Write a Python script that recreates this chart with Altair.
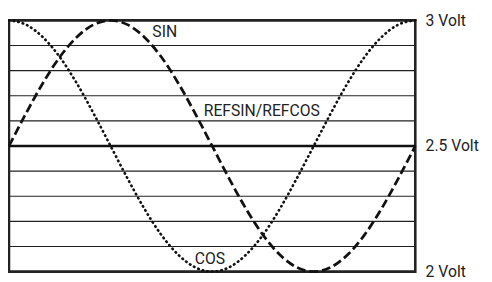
import altair as alt
import pandas as pd

# phase in degrees across one period
phase_deg = [0, 15, 30, 45, 60, 75, 90, 105, 120, 135, 150, 165, 180,
             195, 210, 225, 240, 255, 270, 285, 300, 315, 330, 345, 360]
sin_volt = [2.5, 2.629, 2.75, 2.854, 2.933, 2.983, 3.0, 2.983, 2.933, 2.854, 2.75, 2.629, 2.5,
            2.371, 2.25, 2.146, 2.067, 2.017, 2.0, 2.017, 2.067, 2.146, 2.25, 2.371, 2.5]
cos_volt = [3.0, 2.983, 2.933, 2.854, 2.75, 2.629, 2.5, 2.371, 2.25, 2.146, 2.067, 2.017, 2.0,
            2.017, 2.067, 2.146, 2.25, 2.371, 2.5, 2.629, 2.75, 2.854, 2.933, 2.983, 3.0]
grid_levels = [2.1, 2.2, 2.3, 2.4, 2.6, 2.7, 2.8, 2.9]
mid_level = [2.5]
axis_values = [2, 2.5, 3]
label_text = ["SIN", "REFSIN/REFCOS", "COS"]
label_phase = [138, 224, 178]
label_volt = [2.953, 2.637, 2.051]

curves = pd.DataFrame({"phase": phase_deg, "sin": sin_volt, "cos": cos_volt})
grid_df = pd.DataFrame({"v": grid_levels})
mid_df = pd.DataFrame({"v": mid_level})
labels_df = pd.DataFrame({"t": label_text, "phase": label_phase, "v": label_volt})

xs = alt.Scale(domain=[0, 360], nice=False, zero=False)
ys = alt.Scale(domain=[2, 3], nice=False, zero=False)
yaxis = alt.Axis(
    orient="right", values=axis_values, ticks=False, domain=False, grid=False,
    labelPadding=10, labelFontSize=16, labelFont="Roboto", labelColor="#222",
    labelFlush=False, labelOverlap=False, title=None,
    labelExpr="datum.value + ' Volt'")

grid = alt.Chart(grid_df).mark_rule(color="#222", strokeWidth=1.2).encode(
    y=alt.Y("v:Q", scale=ys, axis=yaxis)
)
mid = alt.Chart(mid_df).mark_rule(color="#111", strokeWidth=2.4).encode(
    y=alt.Y("v:Q", scale=ys, axis=yaxis)
)
sin_line = alt.Chart(curves).mark_line(
    color="#111", strokeWidth=2.8, strokeDash=[9, 4], interpolate="monotone"
).encode(
    x=alt.X("phase:Q", scale=xs, axis=None),
    y=alt.Y("sin:Q", scale=ys, axis=yaxis),
)
cos_line = alt.Chart(curves).mark_line(
    color="#111", strokeWidth=2.7, strokeDash=[0.5, 4.3], strokeCap="round",
    interpolate="monotone"
).encode(
    x=alt.X("phase:Q", scale=xs, axis=None),
    y=alt.Y("cos:Q", scale=ys, axis=yaxis),
)
texts = alt.Chart(labels_df).mark_text(
    font="Roboto", fontSize=16, color="#222", align="center", baseline="middle"
).encode(
    x=alt.X("phase:Q", scale=xs, axis=None),
    y=alt.Y("v:Q", scale=ys, axis=yaxis),
    text="t:N",
)

chart = alt.layer(grid, mid, sin_line, cos_line, texts).properties(
    width=414, height=256,
    autosize=alt.AutoSizeParams(type="none"),
    padding={"left": 1, "top": 10, "right": 70, "bottom": 8},
).configure_view(stroke="#222", strokeWidth=2.6)

chart.save("out.html", embed_options={"renderer": "svg", "actions": False})
